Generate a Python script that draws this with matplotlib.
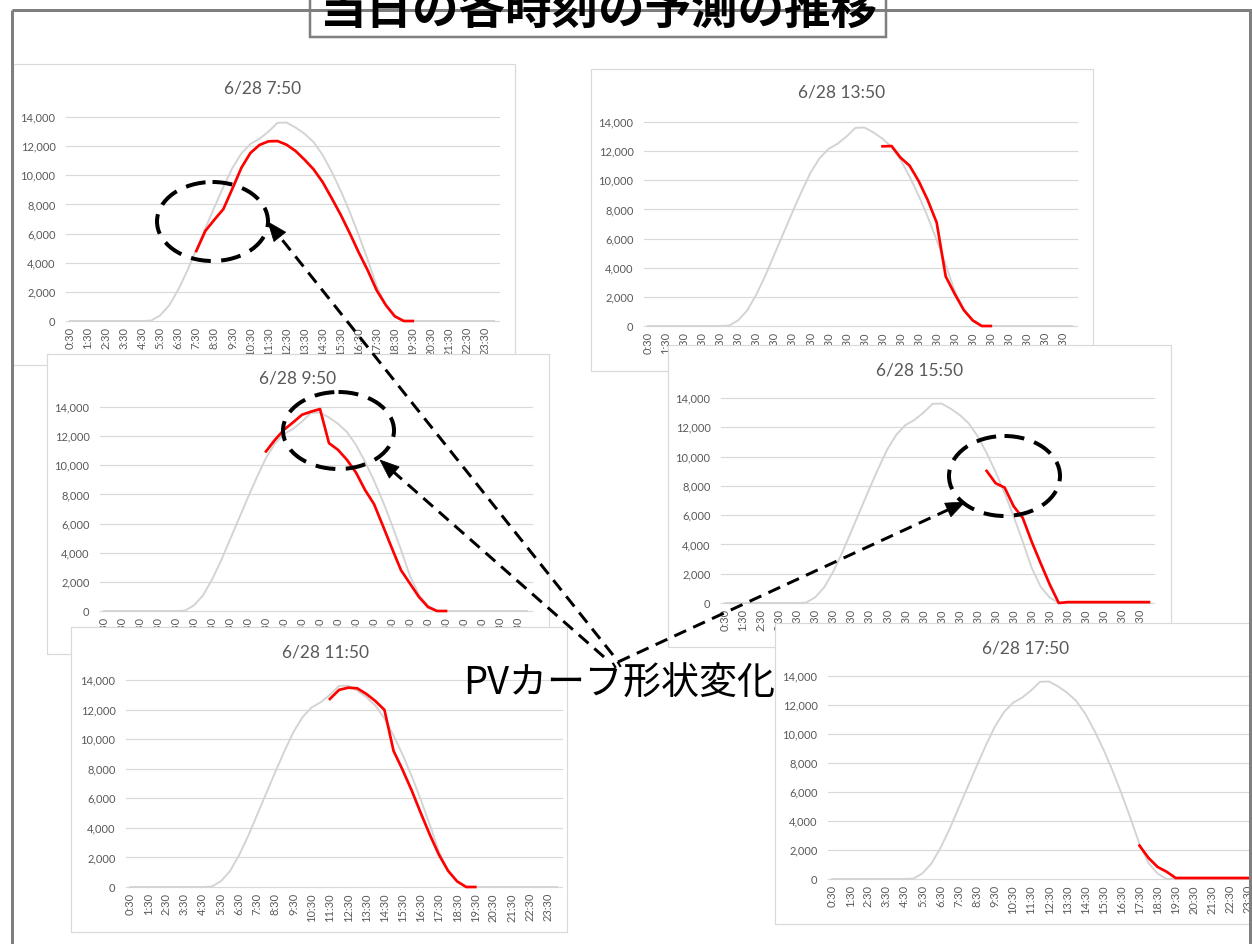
import numpy as np
import matplotlib
matplotlib.use("Agg")
import matplotlib.pyplot as plt
from matplotlib.patches import Rectangle, Ellipse, Polygon

# ---------------------------------------------------------------- data
# half-hour slots of the day (category axis)
SLOTS = ["0:30", "1:00", "1:30", "2:00", "2:30", "3:00", "3:30", "4:00",
         "4:30", "5:00", "5:30", "6:00", "6:30", "7:00", "7:30", "8:00",
         "8:30", "9:00", "9:30", "10:00", "10:30", "11:00", "11:30", "12:00",
         "12:30", "13:00", "13:30", "14:00", "14:30", "15:00", "15:30", "16:00",
         "16:30", "17:00", "17:30", "18:00", "18:30", "19:00", "19:30", "20:00",
         "20:30", "21:00", "21:30", "22:00", "22:30", "23:00", "23:30", "24:00"]

TICK_LABELS = ["0:30", "1:30", "2:30", "3:30", "4:30", "5:30", "6:30", "7:30",
               "8:30", "9:30", "10:30", "11:30", "12:30", "13:30", "14:30",
               "15:30", "16:30", "17:30", "18:30", "19:30", "20:30", "21:30",
               "22:30", "23:30"]

# reference PV curve (light grey), one value per slot
PV_BASE = [0, 0, 0, 0, 0, 0, 0, 0, 0, 30, 390, 1075, 2150, 3450, 4900, 6350,
           7800, 9200, 10500, 11500, 12150, 12500, 13000, 13600, 13620, 13280,
           12850, 12280, 11400, 10250, 8950, 7500, 5900, 4200, 2400, 1100, 370,
           0, 0, 0, 0, 0, 0, 0, 0, 0, 0, 0]

# forecasts issued at each time (red), starting slot + values
FC_0750_FROM = "7:30"
FC_0750 = [4800, 6180, 6950, 7680, 9080, 10520, 11530, 12080, 12330, 12350,
           12100, 11670, 11070, 10410, 9540, 8440, 7300, 6040, 4710, 3480,
           2100, 1100, 320, 0, 0]

FC_0950_FROM = "9:30"
FC_0950 = [10950, 11750, 12440, 12940, 13470, 13680, 13860, 11520, 11060,
           10370, 9500, 8310, 7340, 5830, 4290, 2800, 1880, 960, 275, 0, 0]

FC_1150_FROM = "11:30"
FC_1150 = [12720, 13330, 13480, 13440, 13060, 12580, 11980, 9210, 7920, 6530,
           5000, 3530, 2180, 1100, 380, 0, 0]

FC_1350_FROM = "13:30"
FC_1350 = [12330, 12350, 11550, 11000, 9950, 8650, 7100, 3400, 2200, 1100,
           380, 0, 0]

FC_1550_FROM = "15:00"
FC_1550 = [9020, 8180, 7880, 6600, 5820, 4180, 2700, 1260, 0, 60, 60, 60, 60,
           60, 60, 60, 60, 60, 60]

FC_1750_FROM = "17:30"
FC_1750 = [2300, 1450, 830, 500, 70, 70, 70, 70, 70, 70, 70, 70, 70, 70]

TITLES = ["6/28 7:50", "6/28 13:50", "6/28 9:50", "6/28 15:50",
          "6/28 11:50", "6/28 17:50"]
FORECASTS = [(FC_0750_FROM, FC_0750), (FC_1350_FROM, FC_1350),
             (FC_0950_FROM, FC_0950), (FC_1550_FROM, FC_1550),
             (FC_1150_FROM, FC_1150), (FC_1750_FROM, FC_1750)]

Y_TICKS = [0, 2000, 4000, 6000, 8000, 10000, 12000, 14000]

# ---------------------------------------------------------------- layout (pixels)
W, H, DPI = 1252, 944, 100
PX = 72.0 / DPI  # points per pixel

# card box, plot x-range, plot y-range (top=14,000, bottom=0), title anchor
PANELS = [
    dict(box=(13, 64, 515, 365), px=(65.5, 498.5), py=(117, 321), title=(263, 93)),
    dict(box=(591, 69, 1093, 371), px=(643.5, 1076.5), py=(122, 326), title=(842, 98)),
    dict(box=(47, 354, 549, 654), px=(99.5, 531.5), py=(407, 611), title=(298, 384)),
    dict(box=(668, 345, 1171, 647), px=(720.5, 1153.5), py=(398, 603), title=(920, 375)),
    dict(box=(71, 627, 567, 932), px=(125.5, 561.6), py=(680, 887), title=(326, 657)),
    dict(box=(775, 623, 1300, 924), px=(827.5, 1261.6), py=(676, 879), title=(1026, 653)),
]

TXT = "#595959"
GRID = "#d9d9d9"
BASE_COLOR = "#d3d3d3"
FC_COLOR = "#ff0000"

plt.rcParams["font.family"] = ["Lato", "DejaVu Sans"]
CJK = ["Noto Sans CJK JP", "DejaVu Sans"]

fig = plt.figure(figsize=(W / DPI, H / DPI), dpi=DPI)
fig.patch.set_facecolor("white")

x_idx = np.arange(len(SLOTS))
base = np.array(PV_BASE, dtype=float)


def forecast_series(start, values):
    s = np.full(len(SLOTS), np.nan)
    i0 = SLOTS.index(start)
    s[i0:i0 + len(values)] = values
    return s


for k, (cfg, title, (start, vals)) in enumerate(zip(PANELS, TITLES, FORECASTS)):
    z = 2 * k + 1
    x0, y0, x1, y1 = cfg["box"]
    card = Rectangle((x0 / W, 1 - y1 / H), (x1 - x0) / W, (y1 - y0) / H,
                     transform=fig.transFigure, facecolor="white",
                     edgecolor=GRID, lw=1.2 * PX, zorder=z)
    fig.add_artist(card)
    fig.text(cfg["title"][0] / W, 1 - cfg["title"][1] / H, title,
             ha="center", va="baseline", fontsize=12.5, color=TXT, zorder=z + 0.2)

    L, R = cfg["px"]
    T, B = cfg["py"]
    ax = fig.add_axes([L / W, 1 - B / H, (R - L) / W, (B - T) / H], zorder=z + 0.5)
    ax.patch.set_visible(False)
    for sp in ax.spines.values():
        sp.set_visible(False)
    ax.set_xlim(-0.5, len(SLOTS) - 0.5)
    ax.set_ylim(0, 14000)
    ax.set_yticks(Y_TICKS)
    ax.set_yticklabels([f"{v:,}" for v in Y_TICKS])
    ax.set_xticks(np.arange(0, len(SLOTS), 2))
    ax.set_xticklabels(TICK_LABELS, rotation=90)
    ax.tick_params(axis="y", length=0, pad=10 * PX, labelsize=8, labelcolor=TXT)
    ax.tick_params(axis="x", length=0, pad=6 * PX, labelsize=8, labelcolor=TXT)
    ax.grid(axis="y", color=GRID, lw=1.0 * PX * 1.2)
    ax.grid(axis="x", visible=False)
    for gl in ax.get_ygridlines():
        gl.set_clip_on(False)
    ax.set_axisbelow(True)

    ax.plot(x_idx, base, color=BASE_COLOR, lw=1.9 * PX, clip_on=False, zorder=2,
            solid_joinstyle="round")
    ax.plot(x_idx, forecast_series(start, vals), color=FC_COLOR, lw=2.7 * PX,
            clip_on=False, zorder=3, solid_joinstyle="round")

# ---------------------------------------------------------------- annotations
ov = fig.add_axes([0, 0, 1, 1], zorder=50)
ov.set_xlim(0, W)
ov.set_ylim(H, 0)
ov.axis("off")

FRAME = "#7f7f7f"
ov.plot([12, 12], [10, H + 5], color=FRAME, lw=3 * PX, solid_capstyle="butt", clip_on=False)
ov.plot([12, W + 5], [10, 10], color=FRAME, lw=3 * PX, solid_capstyle="butt", clip_on=False)
ov.plot([1250, 1250], [10, H + 5], color=FRAME, lw=3 * PX, solid_capstyle="butt", clip_on=False)

ov.add_patch(Rectangle((310, -10), 576, 47, facecolor="white", edgecolor=FRAME,
                       lw=2.5 * PX, clip_on=False))
ov.text(598, 25, "当日の各時刻の予測の推移", ha="center", va="baseline",
        fontsize=33.5, fontweight="bold", family=CJK, color="black", clip_on=False)

# dashed ellipses around the changed parts of the curves
for cx, cy, ew, eh in [(212.5, 221.5, 111, 79), (338.5, 430.5, 111, 77),
                       (1004.5, 476, 111, 80)]:
    ov.add_patch(Ellipse((cx, cy), ew, eh, fill=False, edgecolor="black",
                         lw=4 * PX, linestyle=(0, (5, 2.6))))


def dashed_arrow(tail, tip, head_len=19, head_w=15):
    tail = np.array(tail, float)
    tip = np.array(tip, float)
    d = tip - tail
    d /= np.hypot(*d)
    n = np.array([-d[1], d[0]])
    neck = tip - d * head_len
    ov.plot([tail[0], neck[0] + d[0] * 2], [tail[1], neck[1] + d[1] * 2],
            color="black", lw=3 * PX, linestyle=(0, (4.3, 2.6)))
    ov.add_patch(Polygon([tip, neck + n * head_w / 2, neck - n * head_w / 2],
                         closed=True, facecolor="black", edgecolor="black", lw=0.5))


dashed_arrow((613, 655), (268, 222))
dashed_arrow((604, 657), (380, 460))
dashed_arrow((618, 662), (965, 502))

ov.text(463, 694, "PVカーブ形状変化", ha="left", va="baseline", fontsize=27.4,
        family=CJK, color="black")

fig.savefig("out.png", dpi=DPI, facecolor="white")
